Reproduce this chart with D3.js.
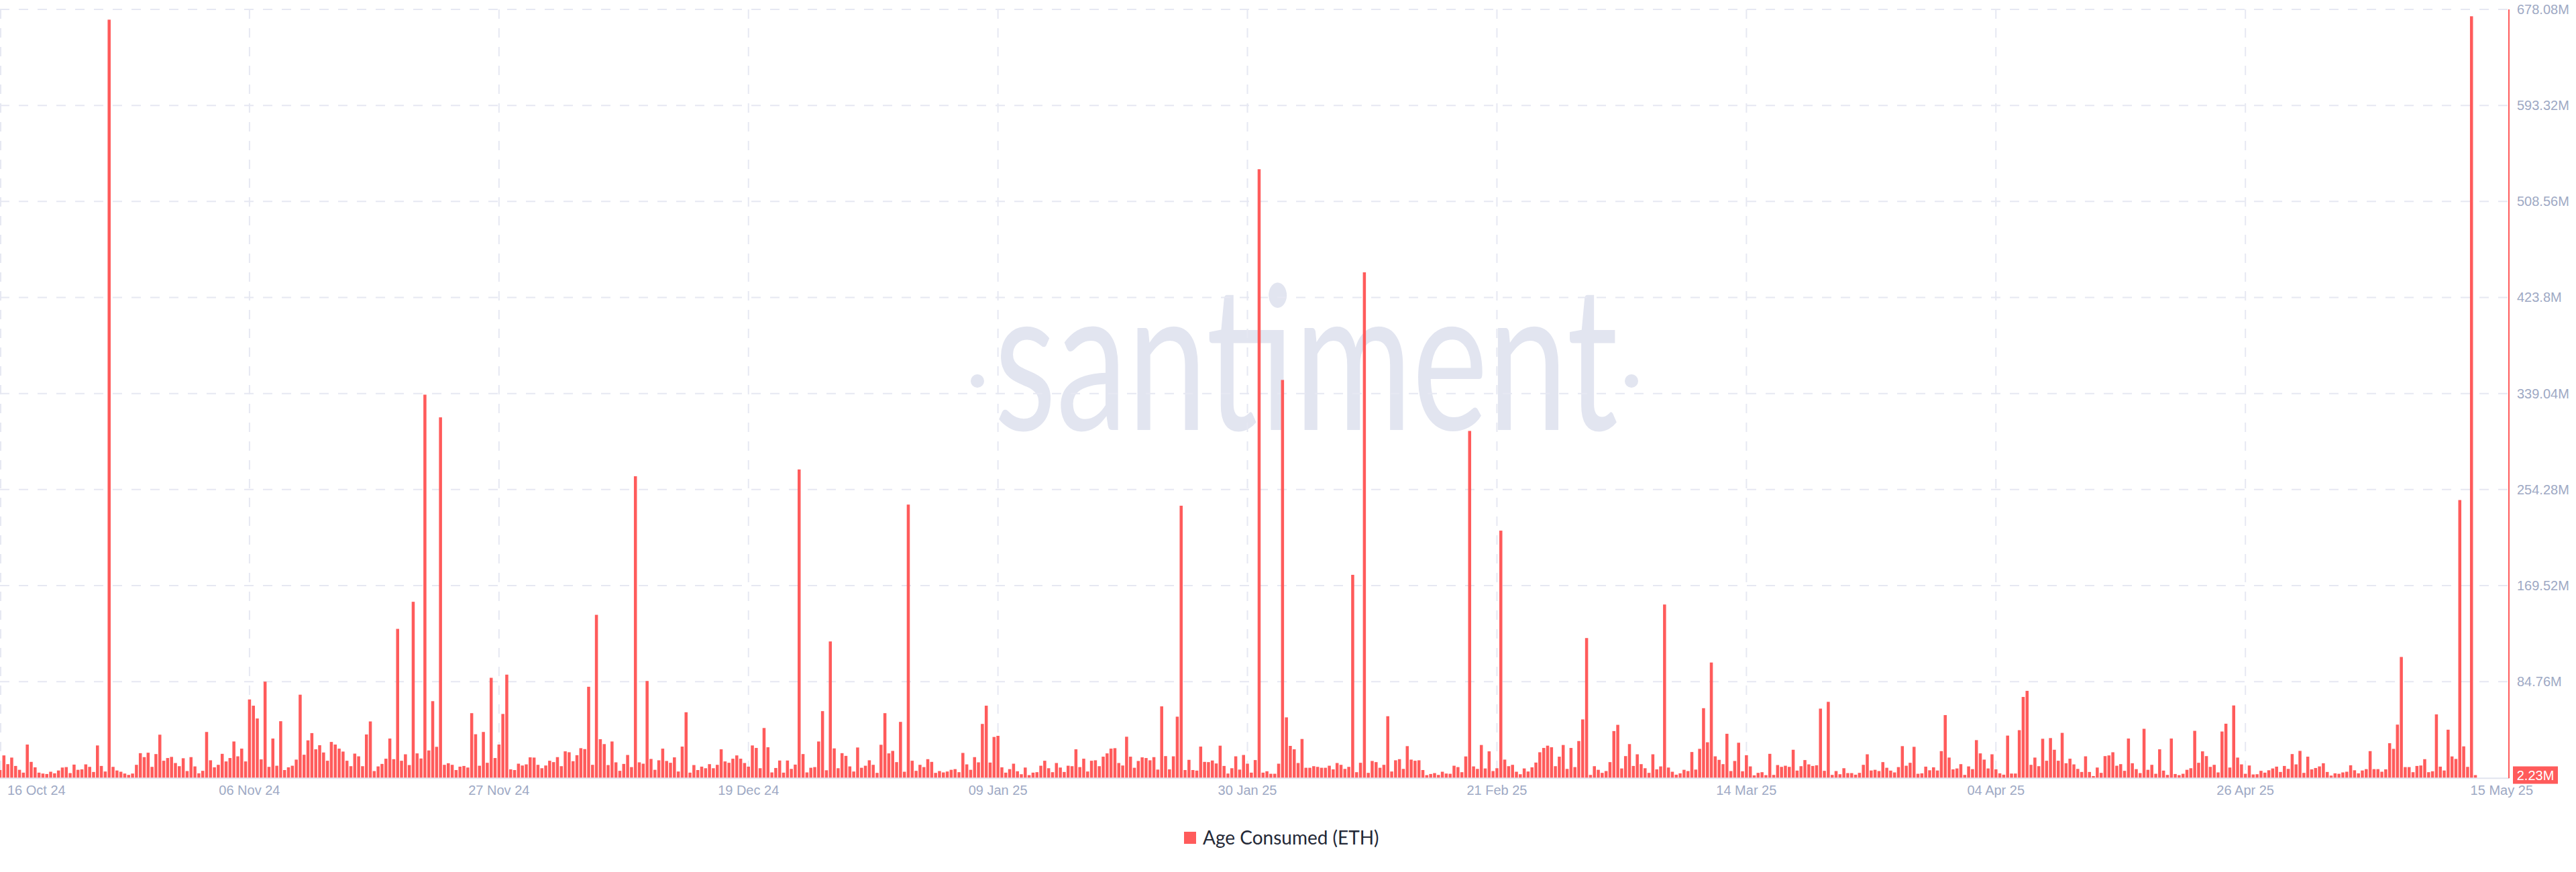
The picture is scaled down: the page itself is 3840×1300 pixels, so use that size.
<!DOCTYPE html>
<html>
<head>
<meta charset="utf-8">
<script src="https://cdn.jsdelivr.net/npm/d3@7"></script>
<style>
  html, body { margin: 0; padding: 0; background: #ffffff; }
  svg { display: block; }
</style>
</head>
<body>
<svg id="chart" width="3840" height="1300"></svg>
<script>
// ---------------- DATA ----------------
const seriesName = "Age Consumed (ETH)";
const startDate = "2024-10-16T00:00:00Z";   // first bar
const intervalHours = 8;                      // one bar every 8 hours
const domainEnd = "2025-05-18T12:48:00Z";     // right edge of plot

// Age consumed, millions, one value per 8h bar
const ageConsumed = [
  6.7, 19.6, 11.9, 17.7, 10.3, 6.9, 4.4, 29.2, 13.9, 9.1,
  4.4, 3.6, 3.2, 5.2, 3.8, 6.3, 8.9, 9.3, 4.0, 11.5,
  6.9, 7.3, 11.7, 9.5, 5.0, 28.4, 10.3, 5.4, 669, 9.5,
  6.3, 5.2, 3.6, 2.4, 3.6, 11.3, 21.6, 18.1, 22.0, 9.5,
  20.8, 37.9, 14.9, 17.3, 18.3, 12.9, 10.1, 17.1, 5.8, 18.1,
  9.9, 3.8, 6.0, 40.3, 15.3, 9.1, 11.3, 21.0, 14.3, 17.3,
  31.9, 18.8, 25.6, 14.3, 69.0, 63.5, 52.2, 16.1, 84.7, 9.5,
  34.5, 10.5, 49.8, 6.7, 9.1, 10.5, 15.9, 73.2, 20.2, 32.9,
  39.3, 25.0, 28.6, 22.2, 14.9, 31.5, 29.2, 25.6, 23.0, 14.9,
  10.1, 21.2, 18.8, 10.1, 38.1, 49.6, 5.8, 9.9, 12.1, 16.7,
  34.5, 16.3, 131.3, 14.9, 20.6, 11.1, 155.2, 21.4, 16.9, 338,
  24.0, 67.5, 27.2, 318, 11.3, 12.7, 11.3, 6.7, 9.7, 10.3,
  8.9, 56.9, 38.3, 10.5, 40.3, 13.1, 88.1, 17.3, 29.2, 56.2,
  90.9, 7.3, 6.7, 12.3, 10.7, 11.7, 17.9, 17.7, 11.3, 8.3,
  10.7, 14.9, 13.7, 18.1, 10.1, 23.2, 22.4, 14.5, 19.8, 26.0,
  25.2, 80.2, 11.3, 143.7, 33.9, 29.6, 11.1, 31.9, 13.5, 6.0,
  12.1, 20.0, 9.3, 266, 13.5, 12.3, 85.3, 16.5, 6.9, 15.3,
  25.6, 14.7, 13.1, 17.9, 5.4, 27.4, 57.7, 4.4, 11.1, 6.7,
  9.7, 8.3, 11.9, 8.3, 11.3, 25.0, 14.3, 13.1, 16.7, 19.6,
  16.7, 12.9, 9.7, 28.4, 26.2, 8.3, 43.8, 26.8, 4.6, 8.5,
  15.1, 4.4, 15.1, 7.7, 11.5, 272, 20.8, 4.6, 8.7, 9.3,
  31.9, 58.7, 6.5, 120.2, 25.8, 8.3, 21.6, 19.2, 9.9, 5.4,
  26.6, 8.7, 10.5, 15.3, 11.3, 4.2, 29.0, 56.9, 21.4, 23.6,
  13.7, 49.2, 5.2, 241, 14.9, 6.0, 11.3, 9.3, 16.3, 13.9,
  4.2, 5.8, 4.6, 5.4, 6.9, 7.5, 4.8, 21.8, 11.7, 6.9,
  18.1, 13.5, 47.4, 63.5, 13.3, 35.9, 36.9, 9.1, 4.4, 7.5,
  12.3, 5.6, 3.0, 8.9, 2.2, 4.4, 4.8, 10.5, 14.9, 8.3,
  4.8, 12.9, 8.9, 5.0, 10.5, 10.1, 25.0, 9.3, 16.7, 5.4,
  14.9, 15.3, 10.1, 18.5, 21.4, 25.6, 26.0, 12.9, 10.7, 36.1,
  18.5, 8.7, 14.7, 17.9, 17.3, 15.3, 18.1, 7.1, 62.9, 19.0,
  7.3, 18.8, 53.8, 240, 6.7, 15.7, 6.7, 6.2, 27.4, 13.9,
  13.7, 15.1, 12.5, 28.2, 10.3, 3.6, 8.3, 18.8, 7.1, 20.0,
  12.3, 4.4, 15.5, 537, 4.4, 5.6, 3.4, 3.4, 12.3, 351,
  53.2, 28.0, 25.0, 12.9, 34.1, 8.7, 8.7, 10.1, 9.5, 8.7,
  8.7, 10.5, 7.3, 12.9, 11.3, 7.7, 9.5, 179, 4.8, 13.1,
  446, 4.2, 14.7, 13.7, 8.7, 11.3, 54.2, 5.4, 15.3, 16.3,
  7.7, 27.8, 15.9, 14.9, 15.3, 6.7, 2.2, 3.2, 4.0, 2.4,
  5.2, 3.6, 3.4, 10.5, 9.3, 4.8, 18.7, 306, 9.9, 7.7,
  28.8, 8.1, 23.2, 5.8, 8.3, 218, 15.9, 10.1, 11.3, 5.2,
  3.0, 8.1, 5.4, 9.1, 13.3, 22.4, 26.2, 28.2, 26.8, 10.1,
  18.5, 28.8, 7.7, 26.2, 9.3, 32.3, 51.4, 123.2, 2.4, 10.1,
  6.9, 4.2, 5.8, 13.7, 41.1, 46.6, 8.1, 19.0, 29.6, 10.3,
  20.6, 11.9, 8.3, 4.2, 20.6, 7.3, 9.9, 152.8, 8.9, 5.2,
  2.6, 3.8, 6.9, 5.8, 22.6, 7.1, 25.4, 61.3, 31.2, 101.6,
  18.8, 15.7, 11.9, 38.7, 5.8, 14.7, 30.8, 5.6, 19.8, 9.9,
  2.0, 4.2, 4.8, 2.2, 21.0, 2.4, 11.1, 9.5, 10.5, 9.5,
  24.6, 6.2, 10.1, 15.5, 11.7, 10.3, 10.9, 60.9, 6.0, 66.9,
  2.4, 5.8, 3.0, 8.3, 4.0, 4.0, 2.6, 4.2, 11.3, 20.6,
  6.3, 6.9, 5.8, 13.7, 8.7, 6.2, 4.6, 9.3, 27.8, 10.5,
  13.1, 27.2, 3.4, 3.8, 9.7, 6.5, 9.1, 6.3, 23.4, 55.2,
  17.7, 7.3, 8.1, 11.9, 2.4, 9.9, 7.5, 33.1, 21.4, 15.9,
  8.1, 20.6, 7.3, 3.8, 2.6, 37.1, 3.6, 3.6, 41.9, 71.2,
  76.6, 11.3, 17.7, 10.1, 34.3, 14.9, 34.9, 24.6, 14.9, 39.5,
  12.7, 16.7, 11.7, 7.7, 5.0, 18.8, 5.0, 1.4, 8.9, 4.2,
  19.0, 19.6, 22.4, 10.5, 11.9, 6.0, 34.5, 12.7, 7.5, 4.0,
  43.1, 6.9, 11.3, 3.4, 25.0, 6.2, 2.4, 34.5, 3.2, 2.2,
  3.4, 6.9, 8.3, 41.3, 13.1, 23.2, 19.0, 9.5, 11.3, 4.6,
  40.7, 47.6, 8.9, 63.7, 17.7, 11.7, 3.4, 10.7, 2.8, 3.0,
  6.0, 4.4, 6.5, 8.1, 9.7, 5.0, 10.3, 7.7, 20.8, 11.7,
  23.6, 4.2, 18.5, 7.3, 8.5, 9.9, 12.7, 5.0, 1.8, 3.8,
  3.4, 4.6, 5.2, 10.9, 6.5, 3.8, 6.3, 7.5, 23.4, 7.5,
  7.5, 5.2, 7.3, 30.4, 25.4, 46.8, 106.5, 9.3, 9.3, 4.8,
  10.3, 10.7, 16.3, 4.8, 5.6, 55.8, 9.7, 6.3, 42.3, 18.7,
  16.5, 245, 27.6, 9.5, 672, 2.23
];

const yMax = 678.08;
const yTickValues = [84.76, 169.52, 254.28, 339.04, 423.80, 508.56, 593.32, 678.08];
const yTickLabels = ["84.76M", "169.52M", "254.28M", "339.04M", "423.8M", "508.56M", "593.32M", "678.08M"];

const xTickDates = [
  "2024-10-16T00:00:00Z", "2024-11-06T08:00:00Z", "2024-11-27T16:00:00Z",
  "2024-12-19T00:00:00Z", "2025-01-09T08:00:00Z", "2025-01-30T16:00:00Z",
  "2025-02-21T00:00:00Z", "2025-03-14T08:00:00Z", "2025-04-04T16:00:00Z",
  "2025-04-26T00:00:00Z"
];
const xTickLabels = ["16 Oct 24", "06 Nov 24", "27 Nov 24", "19 Dec 24", "09 Jan 25",
  "30 Jan 25", "21 Feb 25", "14 Mar 25", "04 Apr 25", "26 Apr 25"];
const lastDateLabel = "15 May 25";
const lastValueLabel = "2.23M";

// ---------------- LAYOUT ----------------
const W = 3840, H = 1300;
const plot = { left: 0, right: 3740, top: 14, bottom: 1159.3 };
const RED = "#ff5b5b";
const GRID = "#e6e8f2";
const TICK = "#9ea9c4";

const svg = d3.select("#chart");

const t0 = new Date(startDate);
const rows = ageConsumed.map((v, i) => ({
  date: new Date(t0.getTime() + i * intervalHours * 3600e3),
  value: v
}));

const x = d3.scaleTime()
  .domain([t0, new Date(domainEnd)])
  .range([plot.left, plot.right]);
const y = d3.scaleLinear()
  .domain([0, yMax])
  .range([plot.bottom, plot.top]);

const step = x(rows[1].date) - x(rows[0].date);
const barW = step * 0.78;

// clip
svg.append("defs").append("clipPath").attr("id", "plotClip")
  .append("rect")
  .attr("x", plot.left).attr("y", 0)
  .attr("width", plot.right - plot.left).attr("height", plot.bottom + 1);

// watermark
const wm = svg.append("g").attr("class", "watermark");
wm.append("text")
  .attr("x", (plot.left + plot.right) / 2 + 77)
  .attr("y", 641)
  .attr("text-anchor", "middle")
  .attr("font-family", "Lato, 'Open Sans', sans-serif")
  .attr("font-weight", 400)
  .attr("font-size", 300)
  .attr("textLength", 930)
  .attr("lengthAdjust", "spacingAndGlyphs")
  .attr("fill", "#e2e5f0")
  .text("santiment");
[1457, 2432].forEach(cx => {
  wm.append("circle").attr("cx", cx).attr("cy", 568).attr("r", 10).attr("fill", "#e2e5f0");
});

// horizontal grid (dashed)
svg.append("g").attr("class", "ygrid")
  .selectAll("line").data(yTickValues).join("line")
  .attr("x1", plot.left).attr("x2", plot.right)
  .attr("y1", d => y(d)).attr("y2", d => y(d))
  .attr("stroke", GRID).attr("stroke-width", 2)
  .attr("stroke-dasharray", "14 14");

// vertical grid (dashed)
const xTicks = xTickDates.map(d => new Date(d));
svg.append("g").attr("class", "xgrid")
  .selectAll("line").data(xTicks).join("line")
  .attr("x1", d => Math.max(x(d), 1)).attr("x2", d => Math.max(x(d), 1))
  .attr("y1", plot.top).attr("y2", plot.bottom)
  .attr("stroke", GRID).attr("stroke-width", 2)
  .attr("stroke-dasharray", "14 14");

// baseline
svg.append("line")
  .attr("x1", plot.left).attr("x2", plot.right)
  .attr("y1", y(0) + 1).attr("y2", y(0) + 1)
  .attr("stroke", "#e1e4ef").attr("stroke-width", 2);

// bars
svg.append("g").attr("clip-path", "url(#plotClip)")
  .selectAll("rect").data(rows).join("rect")
  .attr("x", d => x(d.date) - barW / 2)
  .attr("width", barW)
  .attr("y", d => y(d.value))
  .attr("height", d => y(0) - y(d.value))
  .attr("fill", RED);

// right axis line (series colour)
svg.append("line")
  .attr("x1", plot.right).attr("x2", plot.right)
  .attr("y1", plot.top).attr("y2", plot.bottom + 1)
  .attr("stroke", RED).attr("stroke-width", 2);

// y tick labels
svg.append("g").attr("class", "yaxis")
  .selectAll("text").data(yTickValues).join("text")
  .attr("x", plot.right + 12)
  .attr("y", d => y(d))
  .attr("dy", "0.35em")
  .attr("font-family", "'Liberation Sans', Arial, sans-serif")
  .attr("font-size", 20)
  .attr("fill", TICK)
  .text((d, i) => yTickLabels[i]);

// x tick labels
svg.append("g").attr("class", "xaxis")
  .selectAll("text").data(xTicks).join("text")
  .attr("x", (d, i) => i === 0 ? 11 : x(d))
  .attr("y", 1185)
  .attr("text-anchor", (d, i) => i === 0 ? "start" : "middle")
  .attr("font-family", "'Liberation Sans', Arial, sans-serif")
  .attr("font-size", 20)
  .attr("fill", TICK)
  .text((d, i) => xTickLabels[i]);
svg.append("text")
  .attr("x", plot.right + 36).attr("y", 1185)
  .attr("text-anchor", "end")
  .attr("font-family", "'Liberation Sans', Arial, sans-serif")
  .attr("font-size", 20)
  .attr("fill", TICK)
  .text(lastDateLabel);

// last value badge
const lastY = y(rows[rows.length - 1].value);
svg.append("rect")
  .attr("x", plot.right + 6).attr("y", lastY - 13)
  .attr("width", 67).attr("height", 26)
  .attr("fill", RED);
svg.append("text")
  .attr("x", plot.right + 6 + 33.5).attr("y", lastY)
  .attr("dy", "0.36em")
  .attr("text-anchor", "middle")
  .attr("font-family", "'Liberation Sans', Arial, sans-serif")
  .attr("font-size", 20)
  .attr("fill", "#ffffff")
  .text(lastValueLabel);

// legend
const lg = svg.append("g").attr("transform", "translate(1765,1249)");
lg.append("rect").attr("x", 0).attr("y", -9).attr("width", 18).attr("height", 18).attr("fill", RED);
lg.append("text")
  .attr("x", 28).attr("y", 0).attr("dy", "0.35em")
  .attr("font-family", "Lato, 'Open Sans', sans-serif")
  .attr("font-size", 28)
  .attr("fill", "#232836")
  .text(seriesName);
</script>
</body>
</html>
